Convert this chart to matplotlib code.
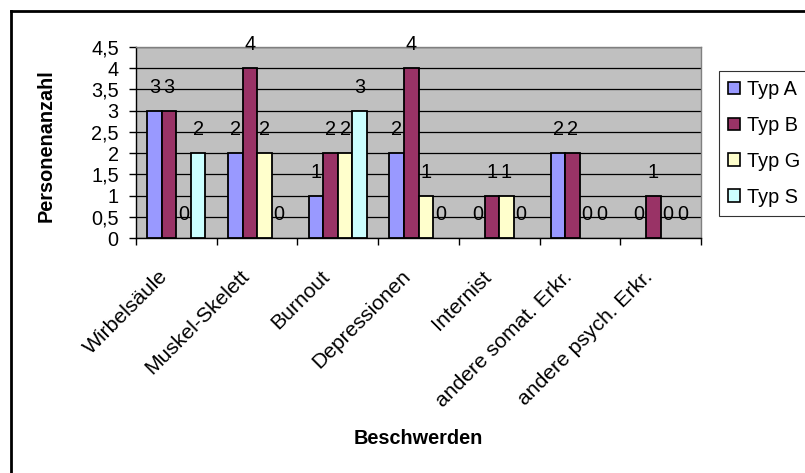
import matplotlib
matplotlib.use("Agg")
import matplotlib.pyplot as plt
from matplotlib.lines import Line2D
from matplotlib.patches import Patch
import numpy as np

plt.rcParams['font.family'] = ['Liberation Sans', 'DejaVu Sans']

categories = ["Wirbelsäule", "Muskel-Skelett", "Burnout", "Depressionen",
              "Internist", "andere somat. Erkr.", "andere psych. Erkr."]
series_names = ["Typ A", "Typ B", "Typ G", "Typ S"]
typ_a = [3, 2, 1, 2, 0, 2, 0]
typ_b = [3, 4, 2, 4, 1, 2, 1]
typ_g = [0, 2, 2, 1, 1, 0, 0]
typ_s = [2, 0, 3, 0, 0, 0, 0]
colors = ["#9999FF", "#993366", "#FFFFCC", "#CCFFFF"]
y_ticks = [0, 0.5, 1, 1.5, 2, 2.5, 3, 3.5, 4, 4.5]
y_ticklabels = ["0", "0,5", "1", "1,5", "2", "2,5", "3", "3,5", "4", "4,5"]

FS = 14.3
W, H = 805, 473
fig = plt.figure(figsize=(W / 100, H / 100), dpi=100)
ax = fig.add_axes([136 / W, 1 - 238 / H, (701 - 136) / W, (238 - 47) / H])
ax.set_facecolor("#C0C0C0")

x = np.arange(len(categories))
bw = 0.18
for i, (vals, col) in enumerate(zip([typ_a, typ_b, typ_g, typ_s], colors)):
    pos = x + (i - 1.5) * bw
    widths = [1.3 if v else 0 for v in vals]
    ax.bar(pos, vals, width=bw, color=col, edgecolor="black", linewidth=widths,
           zorder=3)
    for p, v in zip(pos, vals):
        ax.text(p, v + 0.42, str(v), ha="center", va="baseline", fontsize=FS,
                zorder=4)

ax.set_xlim(-0.5, len(categories) - 0.5)
ax.set_ylim(0, 4.5)
ax.set_yticks(y_ticks)
ax.set_yticklabels(y_ticklabels, fontsize=FS)
ax.yaxis.grid(True, color="black", linewidth=0.9, zorder=0)
ax.set_axisbelow(True)
for s in ["top", "right"]:
    ax.spines[s].set_color("#808080")
    ax.spines[s].set_linewidth(1.0)
ax.spines["left"].set_linewidth(1.0)
ax.spines["bottom"].set_linewidth(1.0)
ax.tick_params(axis="y", length=5, width=1, direction="out", pad=7.5)

# category ticks sit on the group boundaries
ax.set_xticks(np.arange(len(categories) + 1) - 0.5)
ax.set_xticklabels([])
ax.tick_params(axis="x", length=5, width=1, direction="out")
for xi, lab in zip(x, categories):
    ax.annotate(lab, xy=(xi, 0), xycoords=("data", "axes fraction"),
                xytext=(-8, -25.5), textcoords="offset points",
                rotation=45, rotation_mode="anchor", ha="right", va="center",
                fontsize=15.2)

fig.text(46.5 / W, 1 - 146 / H, "Personenanzahl", ha="center", va="center",
         rotation=90, fontsize=FS, fontweight="bold")
fig.text(418 / W, 1 - 438 / H, "Beschwerden", ha="center", va="center",
         fontsize=FS, fontweight="bold")

handles = [Patch(facecolor=c, edgecolor="black", linewidth=1.2) for c in colors]
leg = fig.legend(handles, series_names, loc="upper left",
                 bbox_to_anchor=(719 / W, 1 - 71 / H), fontsize=FS,
                 frameon=True, fancybox=False, edgecolor="black",
                 handlelength=0.6, handleheight=0.6, handletextpad=0.36,
                 borderpad=0.45, labelspacing=0.85, borderaxespad=0)
leg.get_frame().set_linewidth(0.8)

# outer chart frame
fig.add_artist(Line2D([11 / W, 11 / W], [0, 1 - 11 / H], transform=fig.transFigure,
                      color="black", linewidth=2))
fig.add_artist(Line2D([11 / W, 1], [1 - 11 / H, 1 - 11 / H], transform=fig.transFigure,
                      color="black", linewidth=2))

fig.savefig("out.png", dpi=100)
